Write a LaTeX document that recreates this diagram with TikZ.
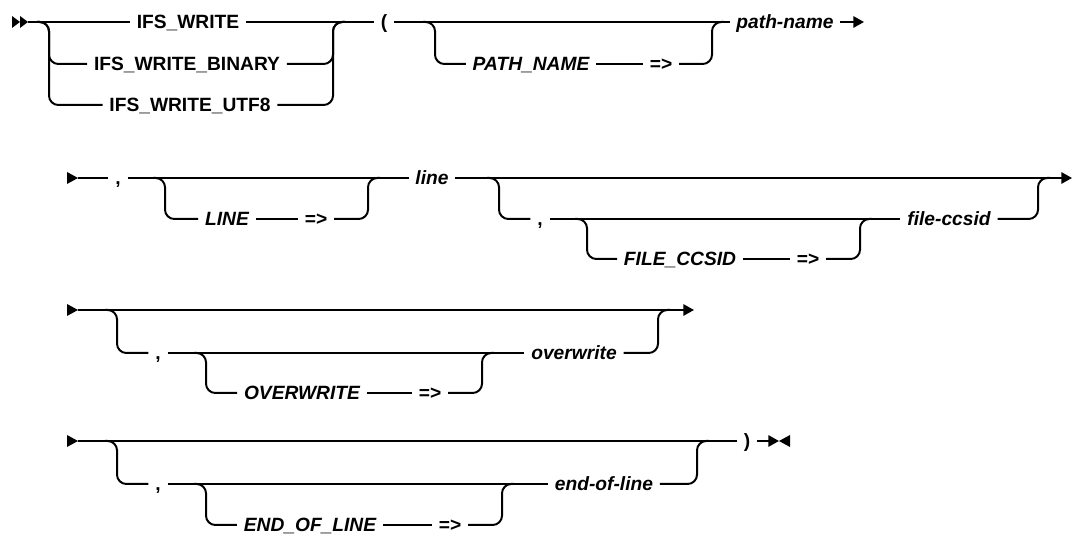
\documentclass[tikz,border=0pt]{standalone}
\usepackage{fontspec}
\setmainfont{Liberation Sans}
\usetikzlibrary{arrows.meta,calc}
\begin{document}
\begin{tikzpicture}[x=0.75pt,y=-0.75pt,
  rail/.style={line width=1.5pt, rounded corners=7pt},
  lbl/.style={inner xsep=5pt, inner ysep=0pt, text height=10.3pt, text depth=0pt, font=\fontsize{14.4}{16}\selectfont\bfseries},
  kw/.style={lbl},
  var/.style={lbl, font=\fontsize{14.4}{16}\selectfont\bfseries\itshape},
  sym/.style={lbl},
  endarrow/.style={-{Triangle[length=8pt,width=8.5pt]}}]
\useasboundingbox (0,0) rectangle (1072,548);

% ---------- Row 1 ----------
\fill (12,16) -- (20,22) -- (12,28) -- cycle;
\fill (20,16) -- (28,22) -- (20,28) -- cycle;
\coordinate (s1) at (28,22);
\node[kw] (ifs) at (188,22) {IFS\_WRITE};
\node[kw] (bin) at (187,64) {IFS\_WRITE\_BINARY};
\node[kw] (utf) at (190,105) {IFS\_WRITE\_UTF8};
\coordinate (c1L) at (49,22);
\coordinate (c1R) at (333,22);
\node[sym] (lp) at (384,22) {(};
\coordinate (pL) at (435,22);
\coordinate (pR) at (712,22);
\node[var] (pn) at (531,64) {PATH\_NAME};
\node[sym] (pa) at (661,64) {=>};
\node[var] (pth) at (785,22) {path-name};
\coordinate (e1) at (864,22);

\draw[rail] (s1) -- (ifs.west);
\draw[rail] ($(c1L)+(-12,0)$) -- (c1L) |- (bin.west);
\draw[rail] ($(c1L)+(-12,0)$) -- (c1L) |- (utf.west);
\draw[rail] (bin.east) -| (c1R) -- ($(c1R)+(12,0)$);
\draw[rail] (utf.east) -| (c1R) -- ($(c1R)+(12,0)$);
\draw[rail] (ifs.east) -- (lp.west);
\draw[rail] (lp.east) -- (pth.west);
\draw[rail] ($(pL)+(-12,0)$) -- (pL) |- (pn.west);
\draw[rail] (pn.east) -- (pa.west);
\draw[rail] (pa.east) -| (pR) -- ($(pR)+(12,0)$);
\draw[rail,endarrow] (pth.east) -- (e1);

% ---------- Row 2 ----------
\fill (67,172) -- (78,178) -- (67,184) -- cycle;
\coordinate (s2) at (78,178);
\node[sym] (c2) at (118,178) {,};
\coordinate (lL) at (165,178);
\coordinate (lR) at (368,178);
\node[var] (ln) at (227,219) {LINE};
\node[sym] (la) at (316,219) {=>};
\node[var] (lnv) at (432,178) {line};
\coordinate (bL) at (499,178);
\coordinate (bR) at (1038,178);
\node[sym] (c2b) at (540,219) {,};
\coordinate (fL) at (587,219);
\coordinate (fR) at (860,219);
\node[var] (fc) at (680,259) {FILE\_CCSID};
\node[sym] (fa) at (808,259) {=>};
\node[var] (fcv) at (949,219) {file-ccsid};
\coordinate (e2) at (1072,178);

\draw[rail] (s2) -- (c2.west);
\draw[rail] (c2.east) -- (lnv.west);
\draw[rail] ($(lL)+(-12,0)$) -- (lL) |- (ln.west);
\draw[rail] (ln.east) -- (la.west);
\draw[rail] (la.east) -| (lR) -- ($(lR)+(12,0)$);
\draw[rail,endarrow] (lnv.east) -- (e2);
\draw[rail] ($(bL)+(-12,0)$) -- (bL) |- (c2b.west);
\draw[rail] (c2b.east) -- (fcv.west);
\draw[rail] ($(fL)+(-12,0)$) -- (fL) |- (fc.west);
\draw[rail] (fc.east) -- (fa.west);
\draw[rail] (fa.east) -| (fR) -- ($(fR)+(12,0)$);
\draw[rail] (fcv.east) -| (bR) -- ($(bR)+(12,0)$);

% ---------- Row 3 ----------
\fill (67,304) -- (78,310) -- (67,316) -- cycle;
\coordinate (s3) at (78,310);
\coordinate (oL) at (117,310);
\coordinate (oR) at (658,310);
\node[sym] (c3) at (158,353) {,};
\coordinate (owL) at (206,353);
\coordinate (owR) at (482,353);
\node[var] (ow) at (302,393) {OVERWRITE};
\node[sym] (owa) at (430,393) {=>};
\node[var] (owv) at (574,353) {overwrite};
\coordinate (e3) at (694,310);

\draw[rail,endarrow] (s3) -- (e3);
\draw[rail] ($(oL)+(-12,0)$) -- (oL) |- (c3.west);
\draw[rail] (c3.east) -- (owv.west);
\draw[rail] ($(owL)+(-12,0)$) -- (owL) |- (ow.west);
\draw[rail] (ow.east) -- (owa.west);
\draw[rail] (owa.east) -| (owR) -- ($(owR)+(12,0)$);
\draw[rail] (owv.east) -| (oR) -- ($(oR)+(12,0)$);

% ---------- Row 4 ----------
\fill (67,435) -- (78,441) -- (67,447) -- cycle;
\coordinate (s4) at (78,441);
\coordinate (eL) at (117,441);
\coordinate (eR) at (697,441);
\node[sym] (c4) at (158,484) {,};
\coordinate (elL) at (206,484);
\coordinate (elR) at (502,484);
\node[var] (el) at (310,525) {END\_OF\_LINE};
\node[sym] (ela) at (450,525) {=>};
\node[var] (elv) at (604,484) {end-of-line};
\node[sym] (rp) at (747,441) {)};
\coordinate (e4) at (779,441);

\draw[rail] (s4) -- (rp.west);
\draw[rail] ($(eL)+(-12,0)$) -- (eL) |- (c4.west);
\draw[rail] (c4.east) -- (elv.west);
\draw[rail] ($(elL)+(-12,0)$) -- (elL) |- (el.west);
\draw[rail] (el.east) -- (ela.west);
\draw[rail] (ela.east) -| (elR) -- ($(elR)+(12,0)$);
\draw[rail] (elv.east) -| (eR) -- ($(eR)+(12,0)$);
\draw[rail,endarrow] (rp.east) -- (e4);
\fill (790,435) -- (779,441) -- (790,447) -- cycle;
\end{tikzpicture}
\end{document}
